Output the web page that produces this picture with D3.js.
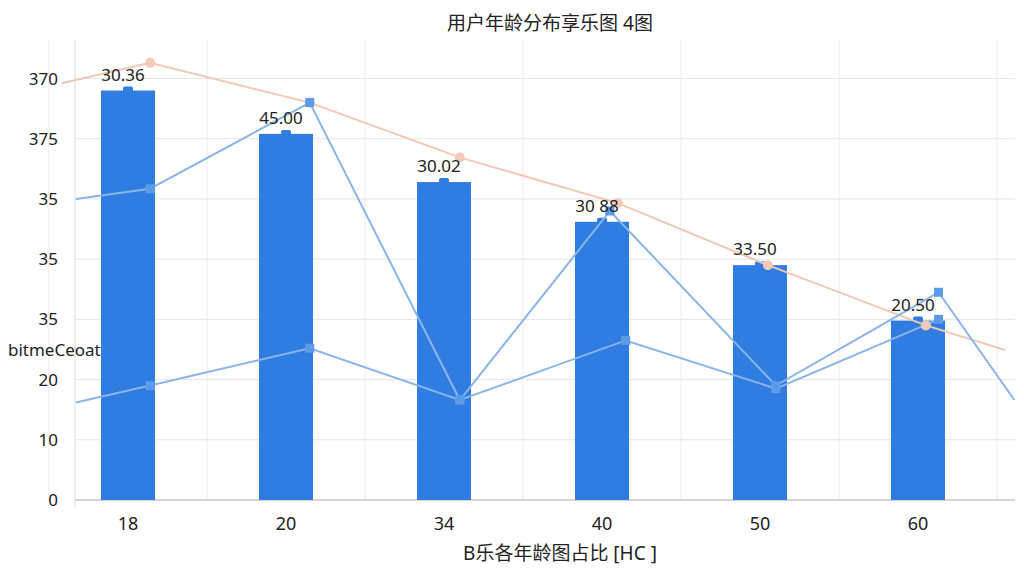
<!DOCTYPE html><html><head><meta charset="utf-8">
<script src="https://cdn.jsdelivr.net/npm/d3@7"></script>
<style>body{margin:0;background:#fff;font-family:"Noto Sans","Noto Sans CJK SC",sans-serif}</style></head><body>
<svg id="c" width="1024" height="576"></svg>
<script>
const categories=["18","20","34","40","50","60"];
const barValues=[68,60.8,52.8,46.2,39,29.8];
const barLabels=["30.36","45.00","30.02","30 88","33.50","20.50"];
const yTickValues=[0,10,20,30,40,50,60,70];
const yTickLabels=["0","10","20","35","35","35","375","370"];
const orangeLine=[[-0.42,69.2],[0.14,72.6],[1.15,66],[2.1,56.9],[3.1,49.3],[4.05,39],[5.05,29],[5.55,24.9]];
const blueLineA=[[-0.33,50],[0.14,51.7],[1.15,66],[2.1,16.6],[3.05,48],[4.1,19],[5.13,34.5],[5.61,16.6]];
const blueLineB=[[-0.33,16.2],[0.14,19],[1.15,25.2],[2.1,16.6],[3.15,26.5],[4.1,18.5],[5.13,30]];
const svg=d3.select("#c");
const L=75,R=1015,T=40,B=500;
const xi=d3.scaleLinear().domain([0,1]).range([128,286]);
const y=d3.scaleLinear().domain([0,70]).range([B,78.5]);
svg.append("g").selectAll("line").data(yTickValues).join("line").attr("x1",L).attr("x2",R).attr("y1",d=>y(d)).attr("y2",d=>y(d)).attr("stroke","#e6e6e6");
svg.append("g").selectAll("line").data(d3.range(7)).join("line").attr("x1",d=>xi(d-0.5)).attr("x2",d=>xi(d-0.5)).attr("y1",T).attr("y2",B).attr("stroke","#ececec");
svg.append("line").attr("x1",L).attr("x2",R).attr("y1",B).attr("y2",B).attr("stroke","#bbb");
svg.append("line").attr("x1",L).attr("x2",L).attr("y1",T).attr("y2",B+8).attr("stroke","#ddd");
svg.append("g").selectAll("text").data(yTickValues).join("text").attr("x",58).attr("y",d=>y(d)+6).attr("text-anchor","end").attr("font-size",17).attr("fill","#222").text((d,i)=>yTickLabels[i]);
svg.append("g").selectAll("text").data(categories).join("text").attr("x",(d,i)=>xi(i)).attr("y",530).attr("text-anchor","middle").attr("font-size",18).attr("fill","#222").text(d=>d);
svg.append("g").selectAll("rect").data(barValues).join("rect").attr("x",(d,i)=>xi(i)-27).attr("width",54).attr("y",d=>y(d)).attr("height",d=>B-y(d)).attr("fill","#2f7de1");
svg.append("g").selectAll("rect").data(barValues).join("rect").attr("x",(d,i)=>xi(i)-5).attr("width",10).attr("y",d=>y(d)-4).attr("height",6).attr("rx",2).attr("fill","#2f7de1");
const line=d3.line().x(d=>xi(d[0])).y(d=>y(d[1]));
svg.append("path").datum(orangeLine).attr("d",line).attr("fill","none").attr("stroke","#f2c8b4").attr("stroke-width",2);
svg.append("path").datum(blueLineA).attr("d",line).attr("fill","none").attr("stroke","#8ab4ea").attr("stroke-width",2);
svg.append("path").datum(blueLineB).attr("d",line).attr("fill","none").attr("stroke","#8ab4ea").attr("stroke-width",2);
svg.append("g").selectAll("circle").data(orangeLine.slice(1,-1)).join("circle").attr("cx",d=>xi(d[0])).attr("cy",d=>y(d[1])).attr("r",5).attr("fill","#f3c9b8");
svg.append("g").selectAll("rect").data(blueLineA.slice(1,-1).concat(blueLineB.slice(1))).join("rect").attr("x",d=>xi(d[0])-4.5).attr("y",d=>y(d[1])-4.5).attr("width",9).attr("height",9).attr("fill","#5b9be8");
svg.append("g").selectAll("text").data(barValues).join("text").attr("x",(d,i)=>xi(i)-5).attr("y",d=>y(d)-10).attr("text-anchor","middle").attr("font-size",17).attr("fill","#222").text((d,i)=>barLabels[i]);
svg.append("text").attr("x",550).attr("y",30).attr("text-anchor","middle").attr("font-size",19).attr("fill","#222").text("用户年龄分布享乐图 4图");
svg.append("text").attr("x",560).attr("y",560).attr("text-anchor","middle").attr("font-size",19).attr("fill","#222").text("B乐各年龄图占比 [HC ]");
svg.append("text").attr("x",8).attr("y",356).attr("font-size",17).attr("fill","#222").text("bitmeCeoat");
</script></body></html>
